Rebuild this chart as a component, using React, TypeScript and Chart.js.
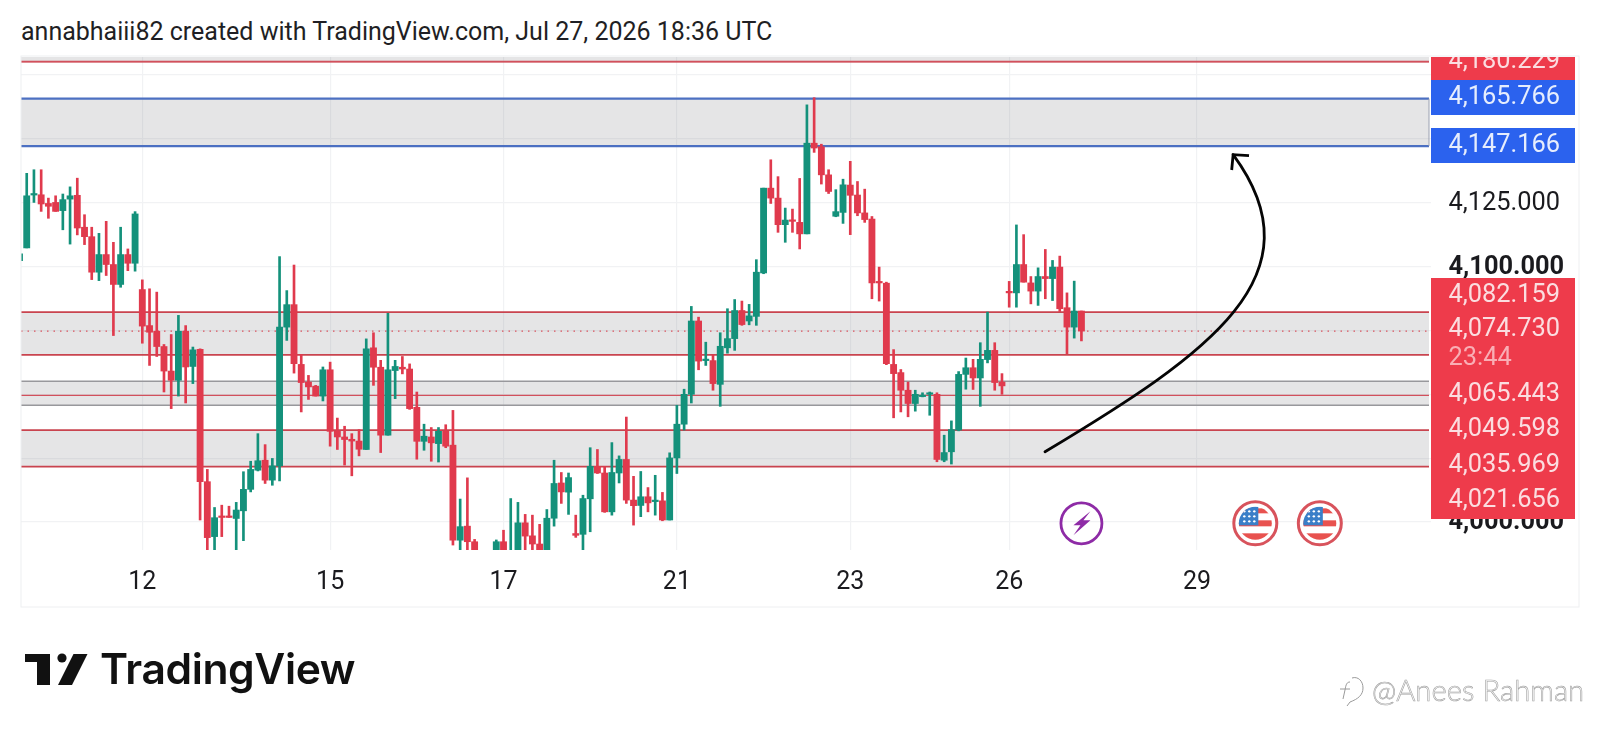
import React, { useEffect, useRef } from "react";
import { Chart, registerables } from "chart.js";

Chart.register(...registerables);

const opens = [
  4102.3, 4107.3, 4128.0, 4128.1, 4124.7, 4125.1, 4121.9, 4126.4, 4127.9, 4115.4,
  4111.7, 4097.8, 4104.7, 4100.8, 4093.0, 4104.7, 4101.3, 4091.0, 4076.9, 4074.7,
  4068.7, 4059.1, 4055.5, 4074.7, 4060.9, 4067.6, 4015.8, 3994.3, 4002.3, 4002.3,
  4001.4, 4004.4, 4012.8, 4020.3, 4024.2, 4016.4, 4022.0, 4076.3, 4085.1, 4061.7,
  4054.8, 4053.2, 4049.3, 4059.6, 4035.5, 4033.3, 4032.4, 4031.7, 4028.4, 4068.2,
  4060.6, 4034.0, 4059.3, 4060.6, 4059.9, 4044.9, 4031.6, 4033.3, 4030.7, 4035.6,
  4030.1, 3992.9, 3998.4, 3992.3, 3986.0, 3980.0, 3986.5, 3992.3, 3984.0, 3986.5,
  3999.7, 3994.6, 3991.4, 3986.5, 4001.5, 4015.3, 4011.7, 3995.5, 3995.2, 4009.1,
  4021.8, 4019.2, 4004.0, 4019.2, 4024.5, 4008.6, 4006.5, 4009.9, 4008.0, 4008.3,
  4000.8, 4025.1, 4038.3, 4050.0, 4078.7, 4063.2, 4063.2, 4053.9, 4068.2, 4071.8,
  4082.8, 4078.7, 4080.5, 4097.5, 4130.7, 4126.8, 4116.4, 4118.2, 4117.3, 4112.8,
  4148.3, 4146.9, 4135.9, 4119.7, 4121.2, 4131.9, 4128.0, 4121.0, 4118.6, 4094.0,
  4093.5, 4061.7, 4058.5, 4051.6, 4046.4, 4049.1, 4050.0, 4050.0, 4024.2, 4027.5,
  4036.0, 4057.8, 4060.4, 4056.4, 4063.6, 4067.2, 4054.8, 4090.3, 4089.7, 4100.8,
  4093.6, 4090.4, 4096.1, 4095.3, 4099.8, 4083.9, 4076.3, 4082.6,
];
const closes = [
  4105.0, 4127.7, 4128.5, 4124.5, 4123.6, 4121.6, 4126.2, 4127.7, 4115.1, 4111.7,
  4097.8, 4104.7, 4100.8, 4093.0, 4104.7, 4101.3, 4120.6, 4076.7, 4074.3, 4068.7,
  4059.1, 4055.5, 4074.7, 4060.7, 4067.4, 4015.8, 3993.9, 4001.7, 4001.8, 4001.8,
  4004.7, 4012.8, 4020.6, 4024.0, 4016.4, 4022.0, 4076.3, 4085.1, 4062.0, 4054.6,
  4052.9, 4049.3, 4059.6, 4035.5, 4033.3, 4032.3, 4031.7, 4028.5, 4067.8, 4060.6,
  4034.0, 4059.6, 4060.9, 4059.9, 4044.4, 4031.6, 4033.6, 4031.0, 4035.5, 4029.7,
  3992.9, 3998.2, 3992.3, 3986.5, 3980.0, 3984.0, 3992.3, 3986.5, 3986.0, 3999.7,
  3994.5, 3991.4, 3986.5, 4001.5, 4015.1, 4011.8, 4017.4, 3994.8, 4009.2, 4021.8,
  4019.2, 4004.0, 4019.4, 4024.5, 4008.6, 4006.4, 4009.9, 4007.5, 4008.3, 4000.8,
  4025.1, 4038.3, 4050.0, 4078.7, 4063.0, 4063.7, 4054.2, 4068.8, 4071.8, 4082.8,
  4077.3, 4080.7, 4097.8, 4130.7, 4126.8, 4116.4, 4118.2, 4117.7, 4112.8, 4148.3,
  4146.4, 4135.9, 4129.4, 4121.5, 4132.0, 4127.9, 4121.0, 4118.4, 4093.6, 4093.6,
  4062.0, 4058.1, 4051.6, 4046.4, 4050.0, 4049.5, 4050.6, 4024.5, 4027.2, 4036.2,
  4057.8, 4060.4, 4056.4, 4063.7, 4067.2, 4054.6, 4053.3, 4089.7, 4100.8, 4093.9,
  4090.4, 4096.1, 4095.3, 4099.8, 4083.5, 4076.3, 4082.6, 4074.73,
];
const highs = [
  4107.5, 4136.5, 4137.9, 4137.9, 4126.8, 4127.7, 4128.4, 4131.2, 4134.6, 4120.3,
  4115.4, 4113.0, 4117.7, 4109.5, 4115.4, 4106.9, 4121.5, 4094.8, 4091.3, 4090.0,
  4069.5, 4073.4, 4080.9, 4076.9, 4068.5, 4067.8, 4020.6, 4005.7, 4006.6, 4006.2,
  4007.7, 4019.7, 4023.8, 4034.6, 4030.3, 4024.9, 4103.9, 4090.6, 4100.6, 4065.6,
  4057.4, 4053.5, 4060.7, 4062.6, 4040.7, 4037.5, 4034.6, 4036.2, 4071.7, 4074.1,
  4063.3, 4081.7, 4063.3, 4064.8, 4061.9, 4050.9, 4038.3, 4037.0, 4037.0, 4038.1,
  4043.7, 4009.0, 4017.3, 3993.2, 3988.0, 3987.0, 3993.0, 3996.8, 4009.2, 4007.7,
  4003.0, 4002.7, 3999.1, 4004.9, 4024.2, 4019.4, 4019.2, 4002.7, 4010.5, 4029.1,
  4028.4, 4021.8, 4031.1, 4025.9, 4041.1, 4017.9, 4019.8, 4013.5, 4018.3, 4011.6,
  4027.1, 4045.7, 4052.0, 4084.4, 4080.2, 4070.4, 4065.5, 4074.1, 4083.5, 4087.1,
  4086.5, 4085.2, 4102.7, 4130.7, 4141.8, 4135.2, 4122.9, 4122.5, 4134.5, 4163.3,
  4166.1, 4147.9, 4137.9, 4130.1, 4134.2, 4141.2, 4133.3, 4130.3, 4119.6, 4099.8,
  4093.9, 4067.5, 4059.7, 4054.8, 4051.6, 4050.6, 4050.9, 4050.6, 4034.0, 4039.6,
  4058.9, 4064.2, 4063.7, 4070.2, 4082.2, 4070.2, 4058.1, 4094.2, 4116.3, 4112.5,
  4096.1, 4099.5, 4106.7, 4102.4, 4104.1, 4089.7, 4094.3, 4082.6,
];
const lows = [
  4099.1, 4107.3, 4125.1, 4121.6, 4118.9, 4121.6, 4114.4, 4108.8, 4112.4, 4108.6,
  4094.9, 4094.5, 4096.5, 4073.0, 4091.9, 4098.4, 4098.2, 4070.0, 4061.3, 4064.8,
  4050.9, 4044.4, 4049.3, 4046.6, 4054.2, 4000.8, 3987.1, 3987.1, 3994.3, 4001.8,
  3987.1, 3992.7, 4011.8, 4020.0, 4015.1, 4014.4, 4016.1, 4071.1, 4058.3, 4043.1,
  4048.0, 4049.3, 4047.4, 4029.7, 4028.4, 4022.3, 4018.1, 4025.9, 4028.4, 4053.5,
  4027.2, 4034.0, 4048.3, 4058.0, 4044.1, 4024.6, 4028.1, 4023.8, 4023.5, 4029.1,
  3991.0, 3986.5, 3986.5, 3985.1, 3978.0, 3977.0, 3985.0, 3985.0, 3982.0, 3985.0,
  3986.5, 3986.5, 3985.0, 3985.0, 3998.4, 4007.3, 4003.0, 3994.0, 3986.5, 3996.2,
  4019.0, 4003.8, 4002.7, 4015.3, 4007.3, 3998.8, 4002.1, 4004.0, 4002.7, 4000.5,
  4000.8, 4019.0, 4036.0, 4046.6, 4059.6, 4061.3, 4051.6, 4045.3, 4066.1, 4067.2,
  4077.0, 4077.2, 4077.0, 4097.2, 4124.7, 4113.4, 4109.5, 4113.4, 4106.9, 4112.8,
  4144.7, 4132.3, 4128.6, 4119.5, 4116.9, 4112.5, 4119.9, 4117.3, 4087.4, 4086.5,
  4061.6, 4040.8, 4043.1, 4041.2, 4043.4, 4049.0, 4041.8, 4023.6, 4023.6, 4022.7,
  4035.7, 4052.0, 4051.9, 4045.3, 4062.3, 4051.6, 4050.0, 4084.1, 4084.1, 4093.9,
  4085.4, 4084.8, 4087.4, 4086.7, 4082.4, 4065.9, 4072.0, 4070.9,
];

const timeTickIndex = [17, 43, 67, 91, 115, 137, 163];
const timeTickLabel = ["12", "15", "17", "21", "23", "26", "29"];
const priceTicks = [4000, 4025, 4050, 4075, 4100, 4125, 4150, 4175];
const coveredPriceTicks = [4150, 4175];

const currentPrice = 4074.73;
const blueZone = [4165.766, 4147.166];
const redZones = [[4082.159, 4065.443], [4035.969, 4021.656], [4190, 4180.229]];
const grayZone = [4055.1, 4045.7];
const redLevels = [4180.229, 4049.598];

// hand-drawn arrow annotation: start, two bezier handles, tip (bar index, price)
const arrowCurveX = [141.96, 164.66, 180.3, 168.0];
const arrowCurveY = [4027.5, 4066.0, 4096.5, 4143.8];
const arrowHeadX = [167.8, 168.0, 170.2];
const arrowHeadY = [4137.8, 4143.8, 4143.4];

const boltEventIndex = [147];
const flagEventIndex = [171.07, 180];
const eventPrice = 3999.5;

const redTags = ["4,082.159", "4,074.730", "23:44", "4,065.443", "4,049.598", "4,035.969", "4,021.656"];
const redTagCentres = [295.5, 330, 358.5, 394.5, 430, 466, 501];

const UP = "#14917B";
const DOWN = "#E03A4D";
const ZONE_FILL = "rgba(125,125,132,0.2)";
const RED_LINE = "#C9444F";
const BLUE_LINE = "#4C70C2";
const GRAY_LINE = "#98989C";
const GRID = "#F1F2F4";
const LABEL_FONT = "25.4px Roboto";

const rising = opens.map((o, i) => closes[i] >= o);
const candleColors = rising.map((r) => (r ? UP : DOWN));

const overlayPlugin = {
  id: "overlay",
  beforeDatasetsDraw(chart: any) {
    const { ctx, chartArea, scales } = chart;
    const y = scales.y;
    const l = chartArea.left;
    const r = chartArea.right - 2;
    ctx.save();
    ctx.beginPath();
    ctx.rect(l, chartArea.top, chartArea.right - l, chartArea.bottom - chartArea.top);
    ctx.clip();
    const zone = (hi: number, lo: number, color: string, width: number) => {
      const a = y.getPixelForValue(hi);
      const b = y.getPixelForValue(lo);
      ctx.fillStyle = ZONE_FILL;
      ctx.fillRect(l, a, r - l, b - a);
      ctx.strokeStyle = color;
      ctx.lineWidth = width;
      ctx.beginPath();
      ctx.moveTo(l, a);
      ctx.lineTo(r, a);
      ctx.moveTo(l, b);
      ctx.lineTo(r, b);
      ctx.stroke();
    };
    redZones.forEach((z) => zone(z[0], z[1], RED_LINE, 1.8));
    zone(grayZone[0], grayZone[1], GRAY_LINE, 1.4);
    zone(blueZone[0], blueZone[1], BLUE_LINE, 2.2);
    ctx.strokeStyle = "#9AA0B0";
    ctx.lineWidth = 1;
    ctx.beginPath();
    ctx.moveTo(r, y.getPixelForValue(blueZone[0]));
    ctx.lineTo(r, y.getPixelForValue(blueZone[1]));
    ctx.stroke();
    ctx.strokeStyle = "#D2505C";
    ctx.lineWidth = 1.4;
    redLevels.forEach((p) => {
      const py = y.getPixelForValue(p);
      ctx.beginPath();
      ctx.moveTo(l, py);
      ctx.lineTo(r, py);
      ctx.stroke();
    });
    ctx.strokeStyle = "#D9535F";
    ctx.lineWidth = 1.4;
    ctx.setLineDash([1.5, 5]);
    const cy = y.getPixelForValue(currentPrice);
    ctx.beginPath();
    ctx.moveTo(l, cy);
    ctx.lineTo(r, cy);
    ctx.stroke();
    ctx.restore();
  },
  afterDatasetsDraw(chart: any) {
    const { ctx, scales } = chart;
    const px = arrowCurveX.map((v) => scales.x.getPixelForValue(v));
    const py = arrowCurveY.map((v) => scales.y.getPixelForValue(v));
    ctx.save();
    ctx.strokeStyle = "#050505";
    ctx.lineWidth = 2.8;
    ctx.lineCap = "round";
    ctx.beginPath();
    ctx.moveTo(px[0], py[0]);
    ctx.bezierCurveTo(px[1], py[1], px[2], py[2], px[3], py[3]);
    ctx.stroke();
    ctx.restore();
  },
  afterDraw(chart: any) {
    const { ctx, chartArea, scales } = chart;
    const x = scales.x;
    const y = scales.y;
    const ax = chartArea.right;
    const boxW = 144;
    const textX = ax + 17.5;
    ctx.save();

    // frame
    ctx.strokeStyle = "#EEEFF1";
    ctx.lineWidth = 1;
    ctx.strokeRect(21, chartArea.top - 1, 1558, 551);

    // price tags
    ctx.textBaseline = "middle";
    ctx.textAlign = "left";
    ctx.font = LABEL_FONT;
    ctx.save();
    ctx.beginPath();
    ctx.rect(ax, chartArea.top, boxW + 4, 700);
    ctx.clip();
    ctx.fillStyle = "#EE3B4B";
    ctx.fillRect(ax, 44, boxW, 36);
    ctx.fillStyle = "#FBDDE0";
    ctx.fillText("4,180.229", textX, 61.5);
    ctx.restore();

    ctx.fillStyle = "#2B62EE";
    ctx.fillRect(ax, 80, boxW, 35);
    ctx.fillRect(ax, 128, boxW, 35);
    ctx.fillStyle = "#E6EDFD";
    ctx.fillText("4,165.766", textX, 97.5);
    ctx.fillText("4,147.166", textX, 145.5);

    ctx.fillStyle = "#EE3B4B";
    ctx.fillRect(ax, 278, boxW, 241);
    redTags.forEach((t, i) => {
      ctx.fillStyle = t.includes(":") ? "#F9AEB5" : "#FBDDE0";
      ctx.fillText(t, textX, redTagCentres[i]);
    });

    // events
    const ey = y.getPixelForValue(eventPrice);
    boltEventIndex.forEach((i) => {
      const ex = x.getPixelForValue(i);
      ctx.strokeStyle = "#8E2BA6";
      ctx.lineWidth = 2.8;
      ctx.beginPath();
      ctx.arc(ex, ey, 20.5, 0, Math.PI * 2);
      ctx.stroke();
      ctx.fillStyle = "#8E2BA6";
      ctx.beginPath();
      ctx.moveTo(ex + 9, ey - 12);
      ctx.lineTo(ex - 8, ey + 2);
      ctx.lineTo(ex - 1, ey + 2);
      ctx.lineTo(ex - 8, ey + 12);
      ctx.lineTo(ex + 9, ey - 3);
      ctx.lineTo(ex + 2, ey - 3);
      ctx.closePath();
      ctx.fill();
    });
    flagEventIndex.forEach((i) => {
      const ex = x.getPixelForValue(i);
      ctx.fillStyle = "#fff";
      ctx.beginPath();
      ctx.arc(ex, ey, 21.5, 0, Math.PI * 2);
      ctx.fill();
      ctx.strokeStyle = "#D8535C";
      ctx.lineWidth = 3;
      ctx.stroke();
      ctx.save();
      ctx.beginPath();
      ctx.arc(ex, ey, 16.5, 0, Math.PI * 2);
      ctx.clip();
      ctx.fillStyle = "#E8524F";
      ctx.fillRect(ex - 17, ey - 15, 34, 5);
      ctx.fillRect(ex - 17, ey - 3, 34, 6);
      ctx.fillRect(ex - 17, ey + 10, 34, 8);
      ctx.fillStyle = "#3A7FC8";
      ctx.fillRect(ex - 17, ey - 17, 20, 19);
      ctx.fillStyle = "#fff";
      for (let a = 0; a < 3; a++) {
        for (let b = 0; b < 3; b++) {
          ctx.beginPath();
          ctx.arc(ex - 11 + a * 5, ey - 12 + b * 5, 1.2, 0, Math.PI * 2);
          ctx.fill();
        }
      }
      ctx.restore();
    });
    ctx.restore();
  },
};

export default function App() {
  const ref = useRef<HTMLCanvasElement | null>(null);

  useEffect(() => {
    if (!ref.current) return;
    const indices = opens.map((_, i) => i);
    const chart = new Chart(ref.current, {
      type: "bar",
      data: {
        datasets: [
          {
            type: "line",
            data: arrowHeadX.map((v, i) => ({ x: v, y: arrowHeadY[i] })),
            borderColor: "#050505",
            borderWidth: 2.8,
            pointRadius: 0,
            tension: 0,
            fill: false,
            order: 0,
          },
          {
            type: "bar",
            data: indices.map((i) => ({
              x: i,
              y: [Math.min(opens[i], closes[i]), Math.max(opens[i], closes[i])],
            })),
            backgroundColor: candleColors,
            barThickness: 6.2,
            minBarLength: 1.5,
            grouped: false,
            order: 1,
          },
          {
            type: "bar",
            data: indices.map((i) => ({ x: i, y: [lows[i], highs[i]] })),
            backgroundColor: candleColors,
            barThickness: 2,
            grouped: false,
            order: 2,
          },
        ],
      } as any,
      options: {
        responsive: false,
        animation: false,
        devicePixelRatio: 1,
        layout: { padding: { left: 21, top: 57, right: 21, bottom: 126 } },
        plugins: { legend: { display: false }, tooltip: { enabled: false }, title: { display: false } },
        scales: {
          x: {
            type: "linear",
            min: 0.208,
            max: 195.39,
            offset: false,
            grid: { color: GRID, lineWidth: 1.2, drawTicks: false, offset: false },
            border: { display: false },
            afterBuildTicks: (s: any) => {
              s.ticks = timeTickIndex.map((value) => ({ value }));
            },
            afterFit: (s: any) => {
              s.height = 57;
            },
            ticks: {
              autoSkip: false,
              maxRotation: 0,
              padding: 18,
              color: "#1A1A1E",
              font: { family: "Roboto", size: 25 },
              callback: (v: any) => timeTickLabel[timeTickIndex.indexOf(Number(v))] ?? "",
            },
          },
          y: {
            position: "right",
            min: 3989.06,
            max: 4182.03,
            grid: { color: GRID, lineWidth: 1.2, drawTicks: false },
            border: { display: false },
            afterBuildTicks: (s: any) => {
              s.ticks = priceTicks.map((value) => ({ value }));
            },
            afterFit: (s: any) => {
              s.width = 148;
            },
            ticks: {
              padding: 17.5,
              labelOffset: 1,
              color: "#1A1A1E",
              font: (c: any) => ({
                family: "Roboto",
                size: 25.4,
                weight: c.tick && c.tick.value % 100 === 0 ? "bold" : "normal",
              }),
              callback: (v: any) =>
                coveredPriceTicks.includes(Number(v))
                  ? ""
                  : Number(v).toLocaleString("en-US", { minimumFractionDigits: 3, maximumFractionDigits: 3 }),
            },
          },
        },
      },
      plugins: [overlayPlugin],
    } as any);
    return () => chart.destroy();
  }, []);

  return (
    <div style={{ position: "absolute", left: 0, top: 0, width: 1600, height: 733, background: "#fff", overflow: "hidden" }}>
      <div
        style={{
          position: "absolute",
          left: 21,
          top: 17,
          font: "25px Roboto",
          color: "#1F1F24",
          whiteSpace: "nowrap",
          lineHeight: "30px",
        }}
      >
        annabhaiii82 created with TradingView.com, Jul 27, 2026 18:36 UTC
      </div>
      <canvas ref={ref} width={1600} height={733} style={{ position: "absolute", left: 0, top: 0, display: "block" }} />
      <svg width="90" height="40" style={{ position: "absolute", left: 20, top: 650 }} viewBox="20 650 90 40">
        <path d="M25 654H50V685H37V662H25Z" fill="#111" />
        <circle cx="62" cy="658" r="4.6" fill="#111" />
        <path d="M73.5 654H87.5L72 685H58Z" fill="#111" />
      </svg>
      <div
        style={{
          position: "absolute",
          left: 100,
          top: 644,
          font: "600 42.6px Inter",
          letterSpacing: "-0.4px",
          color: "#111",
          lineHeight: "50px",
          whiteSpace: "nowrap",
        }}
      >
        TradingView
      </div>
      <svg width="30" height="32" style={{ position: "absolute", left: 1338, top: 676 }} viewBox="0 0 30 32" fill="none" stroke="#9A9A9A" strokeWidth="1">
        <path d="M14 2C20 0 25 5 25 12C25 19 20 23 12 26L9 30" />
        <path d="M12 6C9 6 8 8 7 14L5 23M2 13H12" />
      </svg>
      <div
        style={{
          position: "absolute",
          left: 1372,
          top: 673,
          font: "300 29.3px Lato",
          color: "#fff",
          WebkitTextStroke: "0.6px #A0A0A0",
          lineHeight: "34px",
          whiteSpace: "nowrap",
        }}
      >
        @Anees Rahman
      </div>
    </div>
  );
}
